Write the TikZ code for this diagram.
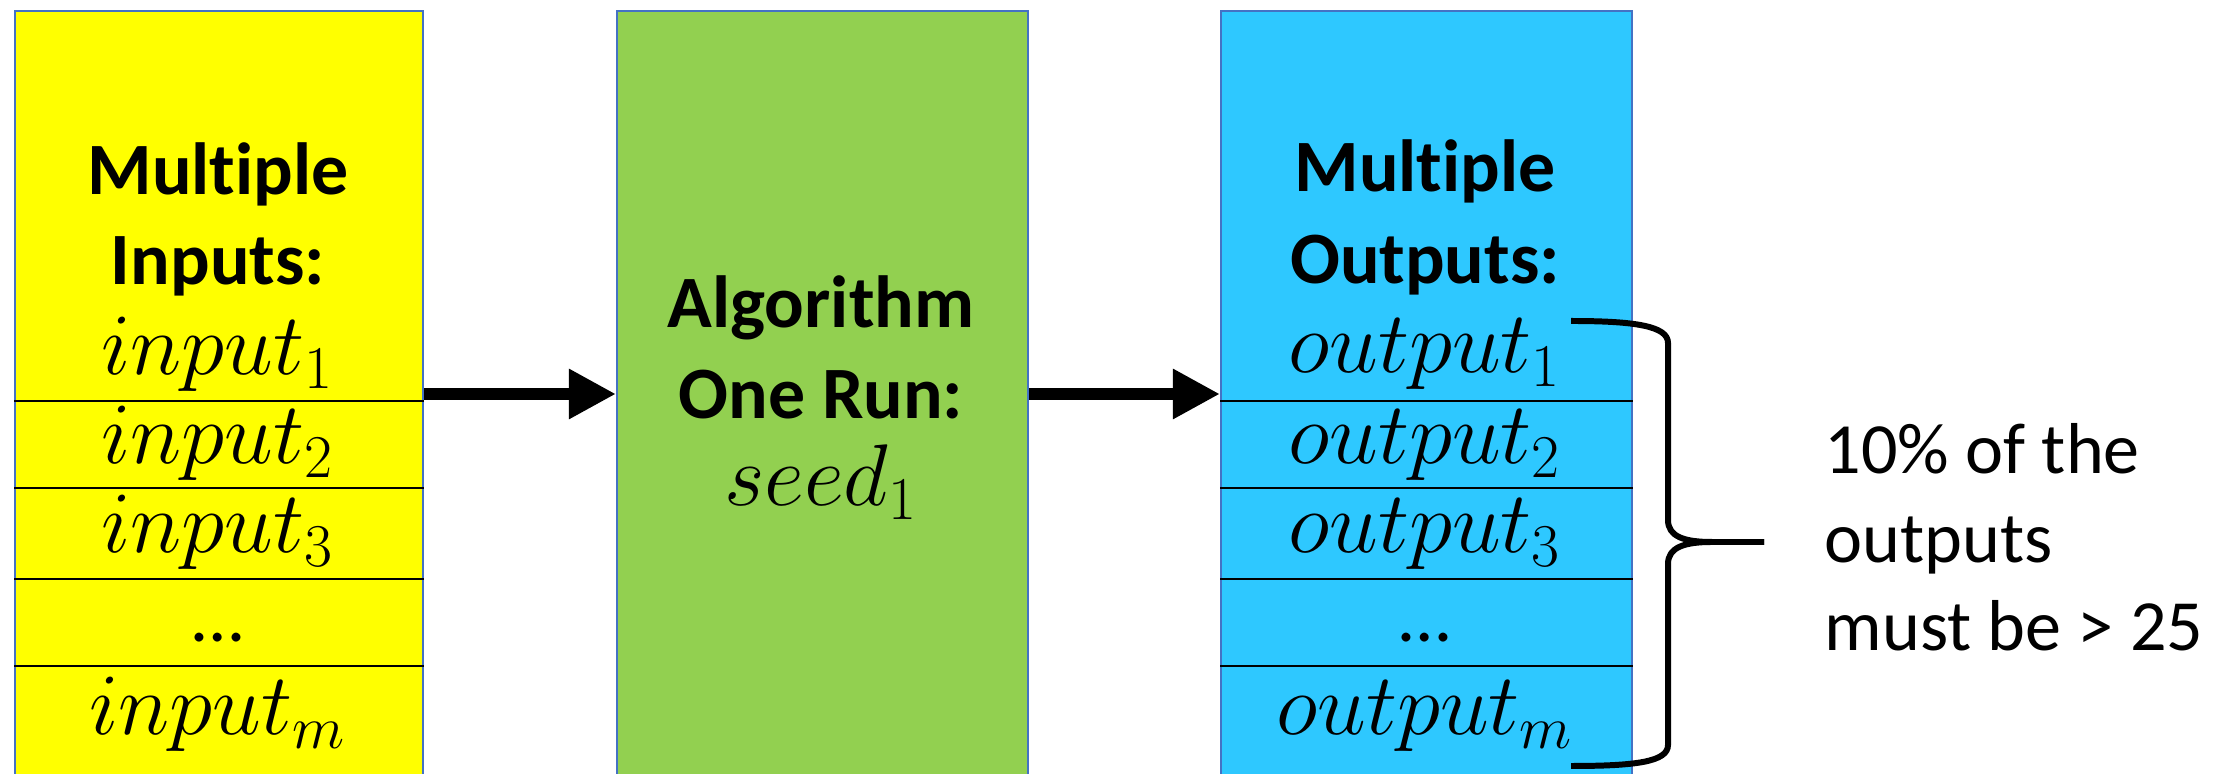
\documentclass[tikz,border=0pt]{standalone}
\usepackage{fontspec}
\setmainfont{Carlito}[Ligatures=NoCommon]
\usetikzlibrary{arrows.meta}
\definecolor{ylw}{RGB}{255,255,0}
\definecolor{grn}{RGB}{146,208,80}
\definecolor{blu}{RGB}{46,200,255}
\definecolor{edgec}{RGB}{68,114,196}
\begin{document}
\begin{tikzpicture}[x=0.01cm,y=-0.01cm,
  colbox/.style={draw=edgec, line width=0.6pt, minimum width=4.08cm, minimum height=8cm, anchor=north west, inner sep=0pt},
  title/.style={font=\fontsize{21}{24}\selectfont\bfseries, anchor=base, inner sep=0pt},
  mlbl/.style={font=\fontsize{25.5}{28}\selectfont, anchor=base, inner sep=0pt},
  plain/.style={font=\fontsize{20.5}{24}\selectfont, anchor=base west, inner sep=0pt},
  sepline/.style={draw=black, line width=0.7pt},
  flow/.style={line width=3.4pt, -{Triangle[length=13.4pt,width=13.4pt]}},
  bracepath/.style={line width=1.7pt}]
\useasboundingbox (0,0) rectangle (2230,774);
\clip (0,0) rectangle (2230,774);
% boxes
\node[colbox, fill=ylw] (inbox) at (14,10) {};
\node[colbox, fill=grn, minimum width=4.11cm] (algbox) at (616,10) {};
\node[colbox, fill=blu, minimum width=4.11cm] (outbox) at (1220,10) {};
% separators
\foreach \yy in {401,488,579,666}{
  \coordinate (s) at (0,\yy);
  \draw[sepline] (inbox.west |- s) -- (inbox.east |- s);
  \draw[sepline] (outbox.west |- s) -- (outbox.east |- s);
}
% input labels
\node[title] (inA) at (218,195) {Multiple};
\node[title] (inB) at (218,285) {Inputs:};
\node[mlbl] (in1) at (218,375) {$input_1$};
\node[mlbl] (in2) at (218,464) {$input_2$};
\node[mlbl] (in3) at (218,553) {$input_3$};
\node[title, font=\fontsize{21}{24}\selectfont] (indots) at (218,642) {\ldots};
\node[mlbl] (inm) at (218,735) {$input_m$};
% algorithm labels
\node[title] (alA) at (821,328) {Algorithm};
\node[title] (alB) at (821,419) {One Run:};
\node[mlbl] (seed) at (821,506) {$seed_1$};
% output labels
\node[title] (outA) at (1425,192) {Multiple};
\node[title] (outB) at (1425,284) {Outputs:};
\node[mlbl] (out1) at (1425,373) {$output_1$};
\node[mlbl] (out2) at (1425,464) {$output_2$};
\node[mlbl] (out3) at (1425,553) {$output_3$};
\node[title, font=\fontsize{21}{24}\selectfont] (outdots) at (1425,642) {\ldots};
\node[mlbl] (outm) at (1425,735) {$output_m$};
% arrows
\coordinate (lvl) at (0,394);
\draw[flow] (inbox.east |- lvl) -- (algbox.west |- lvl);
\draw[flow] (algbox.east |- lvl) -- (outbox.west |- lvl);
% brace
\coordinate (btop) at (1571,321);
\coordinate (btip) at (1764,542);
\coordinate (bbot) at (1571,766);
\draw[bracepath] (btop) .. controls (1635,321) and (1668,326) .. (1668,343)
  -- (1668,520) .. controls (1668,537) and (1685,542) .. (1712,542) -- (btip);
\draw[bracepath] (btip) -- (1712,542) .. controls (1685,542) and (1668,547) .. (1668,564)
  -- (1668,745) .. controls (1668,762) and (1635,766) .. (bbot);
% note
\node[plain] (n1) at (1824,474) {10\% of the};
\node[plain] (n2) at (1824,563) {outputs};
\node[plain] (n3) at (1824,651) {must be > 25};
\end{tikzpicture}
\end{document}
